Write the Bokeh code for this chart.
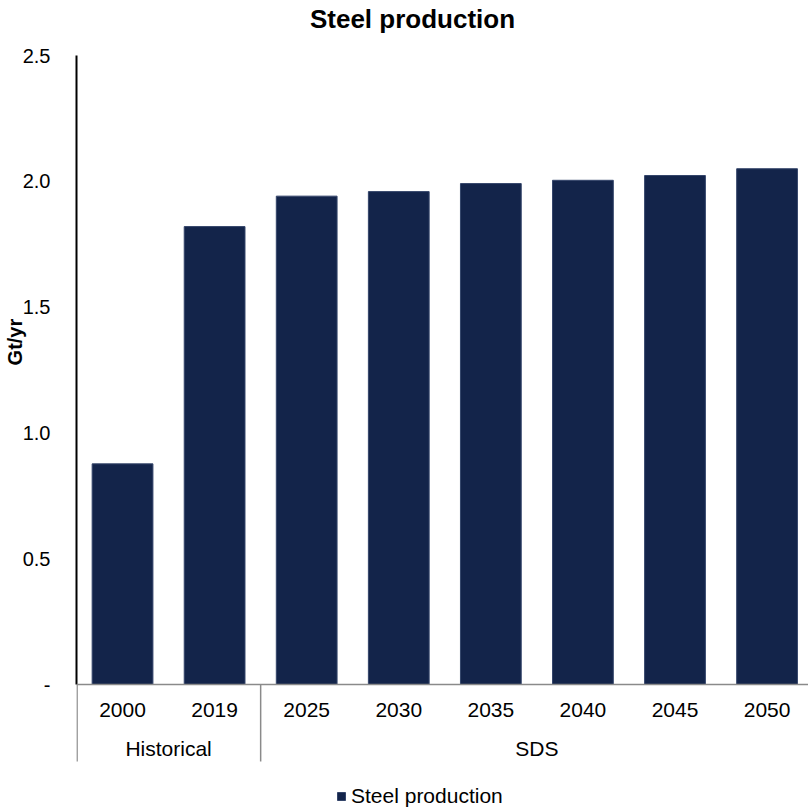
from bokeh.plotting import figure
from bokeh.models import (Range1d, FixedTicker, Legend, LegendItem, ColumnDataSource,
                          Label, Span)
from bokeh.core.properties import value
from bokeh.embed import file_html
from bokeh.resources import INLINE

# ---- data ----
years = ["2000", "2019", "2025", "2030", "2035", "2040", "2045", "2050"]
steel_production = [0.877, 1.820, 1.941, 1.959, 1.991, 2.004, 2.023, 2.050]
groups = ["Historical", "SDS"]
group_sizes = [2, 6]
y_ticks = [0.0, 0.5, 1.0, 1.5, 2.0, 2.5]
y_tick_labels = ["-", "0.5", "1.0", "1.5", "2.0", "2.5"]
title_text = "Steel production"
y_label = "Gt/yr"
series_name = "Steel production"

FONT = "Liberation Sans"
BAR = "#13244A"
GREY = "#8a8a8a"
NBSP = "\u00a0"

# ---- layout geometry (pixels) ----
W, H = 808, 811
LEFT = 76
Y_MAX = 2.5
PX_TOP = 55      # pixel row of Y_MAX
PX_ZERO = 684    # pixel row of 0
upp = Y_MAX / (PX_ZERO - PX_TOP)


def py(px):
    return (PX_ZERO - px) * upp


idx = list(range(len(years)))
src = ColumnDataSource(dict(x=idx, top=steel_production, year=years))

p = figure(width=W, height=H, output_backend="svg", toolbar_location=None,
           x_range=Range1d(-0.5, 7.45), y_range=Range1d(py(H), py(0)),
           x_axis_location=None,
           min_border_left=LEFT, min_border_right=0, min_border_top=0, min_border_bottom=0)
p.grid.visible = False
p.outline_line_color = None
p.background_fill_color = "white"
p.border_fill_color = "white"

r = p.vbar(x="x", top="top", bottom=0, width=0.66, source=src, fill_color=BAR,
           line_color="#34456a", line_width=1)

# y axis
ya = p.yaxis[0]
ya.bounds = (0, Y_MAX)
ya.ticker = FixedTicker(ticks=y_ticks, minor_ticks=[])
ya.major_label_overrides = {t: l for t, l in zip(y_ticks, y_tick_labels)}
ya.axis_line_color = "black"
ya.axis_line_width = 2
ya.major_tick_out = 0
ya.major_tick_in = 0
ya.minor_tick_line_color = None
ya.major_label_standoff = 26
ya.major_label_text_font = FONT
ya.major_label_text_font_size = "20px"
ya.major_label_text_color = "black"
ya.axis_label = NBSP * 23 + y_label
ya.axis_label_standoff = -6
ya.axis_label_text_font = FONT
ya.axis_label_text_font_size = "20px"
ya.axis_label_text_font_style = "bold"
ya.axis_label_text_color = "black"

# x axis line
p.add_layout(Span(location=0, dimension="width", line_color=GREY, line_width=1.5))

# group separators
seps = [-0.5]
acc = -0.5
for g in group_sizes[:-1]:
    acc += g
    seps.append(acc)
sep_x = [s + (0.006 if s == -0.5 else 0) for s in seps]
p.segment(x0=sep_x, y0=[0] * len(seps), x1=sep_x, y1=[py(761)] * len(seps),
          line_color=GREY, line_width=1.5)

# year labels
p.text(x=idx, y=[py(709)] * len(idx), text=years, text_align="center",
       text_baseline="middle", text_font=value(FONT), text_font_size=value("21px"),
       text_color="black")

# group labels
centers = []
start = -0.5
for g in group_sizes:
    centers.append(start + g / 2)
    start += g
p.text(x=centers, y=[py(748)] * len(centers), text=groups, text_align="center",
       text_baseline="middle", text_font=value(FONT), text_font_size=value("21px"),
       text_color="black")

# title
p.add_layout(Label(x=412 - LEFT, y=H - 18, x_units="screen", y_units="screen",
                   text=title_text, text_align="center", text_baseline="alphabetic",
                   text_font=FONT, text_font_size="26px", text_font_style="bold",
                   text_color="black"))

legend = Legend(items=[LegendItem(label=series_name, renderers=[r])],
                location=(336 - LEFT, 3), padding=0, margin=0, border_line_color=None,
                background_fill_alpha=0, glyph_width=10, glyph_height=10,
                label_standoff=5, label_text_font=FONT, label_text_font_size="21px",
                label_text_color="black")
p.add_layout(legend, "center")

open("out.html", "w").write(file_html(p, INLINE))
